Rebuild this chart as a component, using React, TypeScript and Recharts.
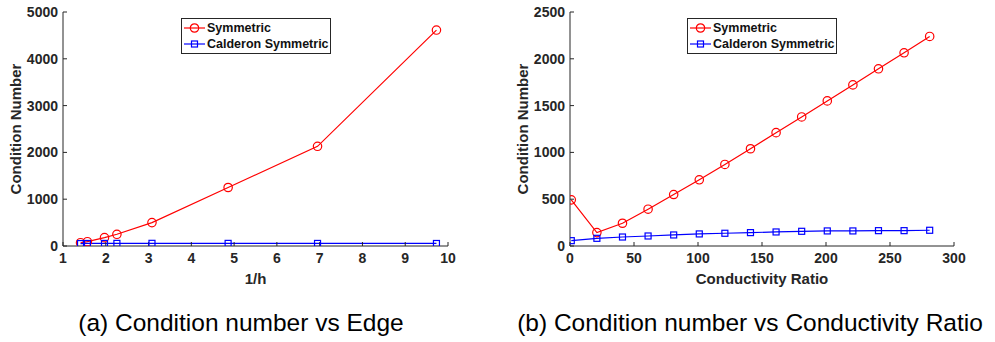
import React from 'react';
import { LineChart, Line, XAxis, YAxis, Legend } from 'recharts';

// (a) condition number vs 1/h
const edgeX = [1.41, 1.57, 1.97, 2.26, 3.08, 4.86, 6.95, 9.73];
const edgeSym = [70, 92, 178, 250, 500, 1250, 2130, 4614];
const edgeCal = [52, 54, 55, 56, 57, 56, 55, 54];
const edgeXTicks = [1, 2, 3, 4, 5, 6, 7, 8, 9, 10];
const edgeYTicks = [0, 1000, 2000, 3000, 4000, 5000];

// (b) condition number vs conductivity ratio
const ratioX = [1, 21, 41, 61, 81, 101, 121, 141, 161, 181, 201, 221, 241, 261, 281];
const ratioSym = [493, 143, 243, 393, 550, 707, 871, 1039, 1211, 1379, 1550, 1721, 1893, 2064, 2239];
const ratioCal = [57, 82, 96, 107, 118, 129, 136, 143, 150, 157, 161, 161, 164, 164, 168];
const ratioXTicks = [0, 50, 100, 150, 200, 250, 300];
const ratioYTicks = [0, 500, 1000, 1500, 2000, 2500];

const seriesNames = ['Symmetric', 'Calderon Symmetric'];
const captions = ['(a) Condition number vs Edge', '(b) Condition number vs Conductivity Ratio'];

const RED = '#ff0000';
const BLUE = '#0000ff';
const INK = '#262626';
const FONT = '"Liberation Sans", Arial, Helvetica, sans-serif';

const tickStyle = { fill: INK, fontSize: 14, fontWeight: 700, fontFamily: FONT };
const titleStyle = { fill: INK, fontSize: 15, fontWeight: 700, fontFamily: FONT };

const SquareDot = (p: any) => {
  if (p.cx == null || p.cy == null) return <g key={p.index} />;
  return (
    <rect key={p.index} x={p.cx - 3} y={p.cy - 3} width={6} height={6}
      fill="none" stroke={BLUE} strokeWidth={1.2} />
  );
};

const LegendBox = (props: any) => {
  const items = [...(props.payload || [])].sort(
    (a: any, b: any) => seriesNames.indexOf(a.value) - seriesNames.indexOf(b.value));
  return (
    <div style={{
      border: `1px solid ${INK}`, background: '#fff', width: 148, padding: '1px 0',
      fontFamily: FONT, fontWeight: 700, fontSize: 12.5, color: '#111', textAlign: 'left',
    }}>
      {items.map((it: any) => (
        <div key={it.value} style={{ display: 'flex', alignItems: 'center', height: 16 }}>
          <svg width={24} height={16} style={{ marginLeft: 1 }}>
            <line x1={1} y1={8} x2={22} y2={8} stroke={it.color} strokeWidth={1.2} />
            {it.dataKey === 'sym'
              ? <circle cx={11.5} cy={8} r={4.2} fill="none" stroke={it.color} strokeWidth={1.2} />
              : <rect x={8.5} y={5} width={6} height={6} fill="none" stroke={it.color} strokeWidth={1.2} />}
          </svg>
          <span style={{ whiteSpace: 'nowrap' }}>{it.value}</span>
        </div>
      ))}
    </div>
  );
};

type PanelProps = {
  xs: number[]; sym: number[]; cal: number[];
  xTicks: number[]; yTicks: number[];
  xLabel: string; yAxisWidth: number; width: number; rightMargin: number;
  titleOffset: number; legendLeft: number;
};

const Panel = ({ xs, sym, cal, xTicks, yTicks, xLabel, yAxisWidth, width, rightMargin, titleOffset, legendLeft }: PanelProps) => {
  const data = xs.map((x, i) => ({ x, sym: sym[i], cal: cal[i] }));
  const xDomain = [xTicks[0], xTicks[xTicks.length - 1]];
  const yDomain = [yTicks[0], yTicks[yTicks.length - 1]];
  return (
    <LineChart width={width} height={300} data={data}
      margin={{ top: 12, right: rightMargin, bottom: 0, left: 0 }}>
      <XAxis dataKey="x" type="number" domain={xDomain} ticks={xTicks} allowDataOverflow
        height={54} tickSize={-4} tickMargin={11} stroke={INK} tick={tickStyle}
        label={{ value: xLabel, position: 'insideBottom', offset: 16, style: titleStyle }} />
      <XAxis xAxisId="top" orientation="top" dataKey="x" type="number" domain={xDomain} ticks={xTicks}
        allowDataOverflow height={0} tickSize={-4} tick={false} stroke={INK} />
      <YAxis type="number" domain={yDomain} ticks={yTicks} allowDataOverflow width={yAxisWidth}
        tickSize={-4} tickMargin={9} stroke={INK} tick={tickStyle}
        label={{ value: 'Condition Number', angle: -90, position: 'insideLeft', offset: titleOffset,
          style: { ...titleStyle, textAnchor: 'middle' } }} />
      <YAxis yAxisId="right" orientation="right" type="number" domain={yDomain} ticks={yTicks}
        allowDataOverflow width={0} tickSize={-4} tick={false} stroke={INK} />
      <Legend content={LegendBox} layout="vertical" align="center" verticalAlign="middle"
        wrapperStyle={{ position: 'absolute', left: legendLeft, top: 18, width: 'auto', height: 'auto' }} />
      <Line dataKey="sym" name={seriesNames[0]} stroke={RED} strokeWidth={1.2} isAnimationActive={false}
        dot={{ r: 4.2, fill: 'none', stroke: RED, strokeWidth: 1.2 }} activeDot={false} />
      <Line dataKey="cal" name={seriesNames[1]} stroke={BLUE} strokeWidth={1.2} isAnimationActive={false}
        dot={SquareDot} activeDot={false} />
    </LineChart>
  );
};

const captionStyle = (center: number): React.CSSProperties => ({
  position: 'absolute', top: 311, left: center - 300, width: 600, textAlign: 'center',
  fontFamily: FONT, fontSize: 24.5, lineHeight: '24px', color: '#000', whiteSpace: 'nowrap',
});

export default function App() {
  return (
    <div style={{ position: 'absolute', left: 0, top: 0, width: 995, height: 342, background: '#fff', overflow: 'hidden' }}>
      <div style={{ position: 'absolute', left: 0, top: 0 }}>
        <Panel xs={edgeX} sym={edgeSym} cal={edgeCal} xTicks={edgeXTicks} yTicks={edgeYTicks}
          xLabel="1/h" yAxisWidth={63} width={480} rightMargin={32} titleOffset={16} legendLeft={181} />
      </div>
      <div style={{ position: 'absolute', left: 500, top: 0 }}>
        <Panel xs={ratioX} sym={ratioSym} cal={ratioCal} xTicks={ratioXTicks} yTicks={ratioYTicks}
          xLabel="Conductivity Ratio" yAxisWidth={70} width={495} rightMargin={41} titleOffset={23} legendLeft={187} />
      </div>
      <div style={captionStyle(241)}>{captions[0]}</div>
      <div style={captionStyle(750)}>{captions[1]}</div>
    </div>
  );
}
